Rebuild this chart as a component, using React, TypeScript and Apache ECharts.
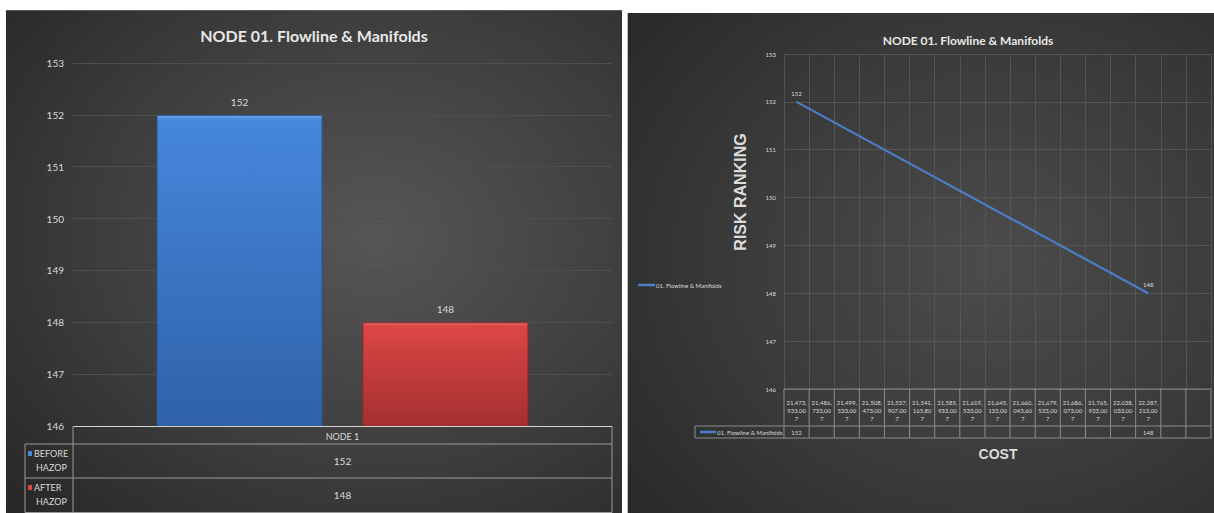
import React, { useEffect, useRef } from "react";
import * as echarts from "echarts";

// ---------- data ----------
const chartTitle = "NODE 01. Flowline & Manifolds";
const barCategories = ["NODE 1"];
const beforeName = "BEFORE HAZOP";
const afterName = "AFTER HAZOP";
const beforeHazop = [152];
const afterHazop = [148];

const costCategories = [
  "21,473,933,007",
  "21,486,733,007",
  "21,499,533,007",
  "21,508,473,007",
  "21,537,907,007",
  "21,541,165,807",
  "21,585,933,007",
  "21,619,533,007",
  "21,645,133,007",
  "21,660,043,607",
  "21,679,533,007",
  "21,686,073,007",
  "21,765,933,007",
  "22,038,033,007",
  "22,287,213,007",
  "",
  " ",
];
const lineName = "01. Flowline & Manifolds";
const riskRanking = [152, null, null, null, null, null, null, null, null, null, null, null, null, null, 148, null, null];
const yMin = 146;
const yMax = 153;
const yAxisTitle = "RISK RANKING";
const xAxisTitle = "COST";

// ---------- layout ----------
const LG = { left: 73, right: 612, top: 63, bottom: 426 };
const RG = { left: 784, right: 1211, top: 54, bottom: 389 };
const W = 1214;
const H = 513;
const TXT = "#d9d9d9";
const FONT = "Lato, 'Noto Sans', sans-serif";
const BLUE = "#4a7fc8";

function fmtCost(v: string) {
  if (!v.trim()) return "";
  return v.slice(0, 7) + "\n" + v.slice(7, 13) + "\n" + v.slice(13);
}

function line(x1: number, y1: number, x2: number, y2: number, color: string, w = 1) {
  return {
    type: "line",
    z: 20,
    shape: { x1, y1, x2, y2 },
    style: { stroke: color, lineWidth: w },
    silent: true,
  };
}

function text(x: number, y: number, t: string, size: number, opts: any = {}) {
  return {
    type: "text",
    z: 20,
    x,
    y,
    rotation: opts.rotation || 0,
    silent: true,
    style: {
      text: t,
      fill: opts.color || TXT,
      font: `${opts.weight || "normal"} ${size}px ${opts.family || FONT}`,
      align: opts.align || "center",
      verticalAlign: "middle",
    },
  };
}

export default function App() {
  const ref = useRef<HTMLDivElement>(null);

  useEffect(() => {
    if (!ref.current) return;
    const chart = echarts.init(ref.current, undefined, { renderer: "svg" });

    const graphics: any[] = [];
    // panels
    graphics.push({
      type: "rect",
      z: -10,
      silent: true,
      shape: { x: 6, y: 10, width: 616, height: 503 },
      style: {
        fill: new echarts.graphic.RadialGradient(0.6, 0.45, 0.85, [
          { offset: 0, color: "#565656" },
          { offset: 0.55, color: "#3c3c3c" },
          { offset: 1, color: "#242424" },
        ]),
      },
    });
    graphics.push({ ...line(6, 10.5, 622, 10.5, "#5a5a5a"), z: -9 });
    graphics.push({
      type: "rect",
      z: -10,
      silent: true,
      shape: { x: 627, y: 13, width: 587, height: 500 },
      style: {
        fill: new echarts.graphic.RadialGradient(0.62, 0.5, 0.85, [
          { offset: 0, color: "#4c4c4c" },
          { offset: 0.55, color: "#393939" },
          { offset: 1, color: "#262626" },
        ]),
      },
    });
    graphics.push({ ...line(627.5, 13, 627.5, 513, "#bdbdbd"), z: -9 });

    // titles
    graphics.push(text((6 + 622) / 2, 35, chartTitle, 16, { weight: "bold", color: "#e8e8e8" }));
    graphics.push(text(968, 40, chartTitle, 12, { weight: "bold", color: "#e8e8e8" }));
    graphics.push(
      text(740, 192, yAxisTitle, 16, {
        weight: "bold",
        family: "'Liberation Sans', Arial, sans-serif",
        rotation: Math.PI / 2,
        color: "#dcdcdc",
      })
    );
    graphics.push(
      text(998, 454, xAxisTitle, 14, {
        weight: "bold",
        family: "'Liberation Sans', Arial, sans-serif",
        color: "#dcdcdc",
      })
    );

    // ---- left data table ----
    const tl = 25;
    const rows = [LG.bottom, 444, 478, 512.5];
    const bc = "#9a9a9a";
    graphics.push(line(LG.left, rows[0] + 0.5, LG.right, rows[0] + 0.5, "#d5d5d5"));
    graphics.push(line(tl, rows[1], LG.right, rows[1], bc));
    graphics.push(line(tl, rows[2], LG.right, rows[2], bc));
    graphics.push(line(tl, rows[3], LG.right, rows[3], bc));
    graphics.push(line(LG.left, rows[0], LG.left, rows[3], bc));
    graphics.push(line(LG.right, rows[0], LG.right, rows[3], bc));
    graphics.push(line(tl, rows[1], tl, rows[3], bc));
    const cx = (LG.left + LG.right) / 2;
    graphics.push(text(cx, (rows[0] + rows[1]) / 2 + 1, barCategories[0], 9));
    graphics.push(text(cx, (rows[1] + rows[2]) / 2, String(beforeHazop[0]), 10));
    graphics.push(text(cx, (rows[2] + rows[3]) / 2, String(afterHazop[0]), 10));
    const legendRows = [
      { name: beforeName, color: "#4a88dc", top: rows[1] },
      { name: afterName, color: "#dd4444", top: rows[2] },
    ];
    legendRows.forEach((r) => {
      const parts = r.name.split(" ");
      graphics.push({
        type: "rect",
        z: 20,
        silent: true,
        shape: { x: 28, y: r.top + 7, width: 4, height: 5 },
        style: { fill: r.color },
      });
      graphics.push(text(34, r.top + 9.5, parts[0], 9, { align: "left" }));
      graphics.push(text(36, r.top + 23, parts[1], 9, { align: "left" }));
    });

    // ---- right data table ----
    const n = costCategories.length;
    const cw = (RG.right - RG.left) / n;
    const rRow = 426;
    const rBot = 438;
    const rc = "#8c8c8c";
    graphics.push(line(RG.left, RG.bottom, RG.right, RG.bottom, rc));
    graphics.push(line(695, rRow, RG.right, rRow, rc));
    graphics.push(line(695, rBot, RG.right, rBot, rc));
    graphics.push(line(695, rRow, 695, rBot, rc));
    for (let i = 0; i <= n; i++) {
      const x = RG.left + i * cw;
      graphics.push(line(x, RG.bottom, x, rBot, rc));
    }
    graphics.push(line(700, (rRow + rBot) / 2, 716, (rRow + rBot) / 2, BLUE, 2.5));
    graphics.push(text(717, (rRow + rBot) / 2, lineName, 6, { align: "left" }));
    riskRanking.forEach((v, i) => {
      if (v == null) return;
      graphics.push(text(RG.left + (i + 0.5) * cw, (rRow + rBot) / 2, String(v), 6));
    });

    const option: any = {
      animation: false,
      backgroundColor: "#ffffff",
      textStyle: { fontFamily: FONT },
      legend: [
        {
          data: [{ name: lineName, icon: "rect" }],
          left: 633,
          top: 277,
          itemWidth: 17,
          itemHeight: 2.5,
          itemStyle: { color: BLUE },
          textStyle: { color: TXT, fontSize: 6, fontFamily: FONT, padding: [0, 0, 0, -4] },
          selectedMode: false,
        },
      ],
      grid: [
        { left: LG.left, top: LG.top, width: LG.right - LG.left, height: LG.bottom - LG.top, containLabel: false },
        { left: RG.left, top: RG.top, width: RG.right - RG.left, height: RG.bottom - RG.top, containLabel: false },
      ],
      xAxis: [
        {
          gridIndex: 0,
          type: "category",
          data: barCategories,
          axisLine: { show: false },
          axisTick: { show: false },
          axisLabel: { show: false },
        },
        {
          gridIndex: 1,
          type: "category",
          data: costCategories,
          boundaryGap: true,
          axisLine: { show: false },
          axisTick: { show: false },
          axisLabel: {
            interval: 0,
            formatter: fmtCost,
            fontSize: 6,
            lineHeight: 8,
            color: TXT,
            margin: 9,
            fontFamily: FONT,
          },
          splitLine: { show: true, interval: 0, lineStyle: { color: "#595959", width: 0.8 } },
        },
      ],
      yAxis: [
        {
          gridIndex: 0,
          type: "value",
          min: yMin,
          max: yMax,
          interval: 1,
          axisLine: { show: false },
          axisTick: { show: false },
          axisLabel: { color: TXT, fontSize: 10, margin: 9, fontFamily: FONT },
          splitLine: { lineStyle: { color: "#4e4e4e", width: 1 } },
        },
        {
          gridIndex: 1,
          type: "value",
          min: yMin,
          max: yMax,
          interval: 1,
          axisLine: { show: false },
          axisTick: { show: false },
          axisLabel: { color: TXT, fontSize: 6, margin: 8, fontFamily: FONT },
          splitLine: { lineStyle: { color: "#595959", width: 0.8 } },
        },
      ],
      series: [
        {
          type: "bar",
          name: beforeName,
          xAxisIndex: 0,
          yAxisIndex: 0,
          data: beforeHazop,
          barGap: "24%",
          barCategoryGap: "31%",
          itemStyle: {
            color: new echarts.graphic.LinearGradient(0, 0, 0, 1, [
              { offset: 0, color: "#6aa6ee" },
              { offset: 0.015, color: "#4687dc" },
              { offset: 1, color: "#2f62a8" },
            ]),
            borderColor: "#2a568f",
            borderWidth: 1,
          },
          label: { show: true, position: "top", color: TXT, fontSize: 10, distance: 8, fontFamily: FONT },
        },
        {
          type: "bar",
          name: afterName,
          xAxisIndex: 0,
          yAxisIndex: 0,
          data: afterHazop,
          barGap: "24%",
          barCategoryGap: "31%",
          itemStyle: {
            color: new echarts.graphic.LinearGradient(0, 0, 0, 1, [
              { offset: 0, color: "#f07070" },
              { offset: 0.03, color: "#dc4646" },
              { offset: 1, color: "#a63030" },
            ]),
            borderColor: "#8e2a2a",
            borderWidth: 1,
          },
          label: { show: true, position: "top", color: TXT, fontSize: 10, distance: 8, fontFamily: FONT },
        },
        {
          type: "line",
          name: lineName,
          xAxisIndex: 1,
          yAxisIndex: 1,
          data: riskRanking,
          connectNulls: true,
          symbol: "circle",
          symbolSize: 1,
          itemStyle: { color: BLUE },
          lineStyle: { color: BLUE, width: 2.2 },
          label: { show: true, position: "top", color: TXT, fontSize: 6, distance: 5, fontFamily: FONT },
        },
      ],
      graphic: { elements: graphics },
    };

    chart.setOption(option);
    return () => chart.dispose();
  }, []);

  return (
    <div
      ref={ref}
      style={{ position: "fixed", left: 0, top: 0, width: W, height: H }}
    />
  );
}
